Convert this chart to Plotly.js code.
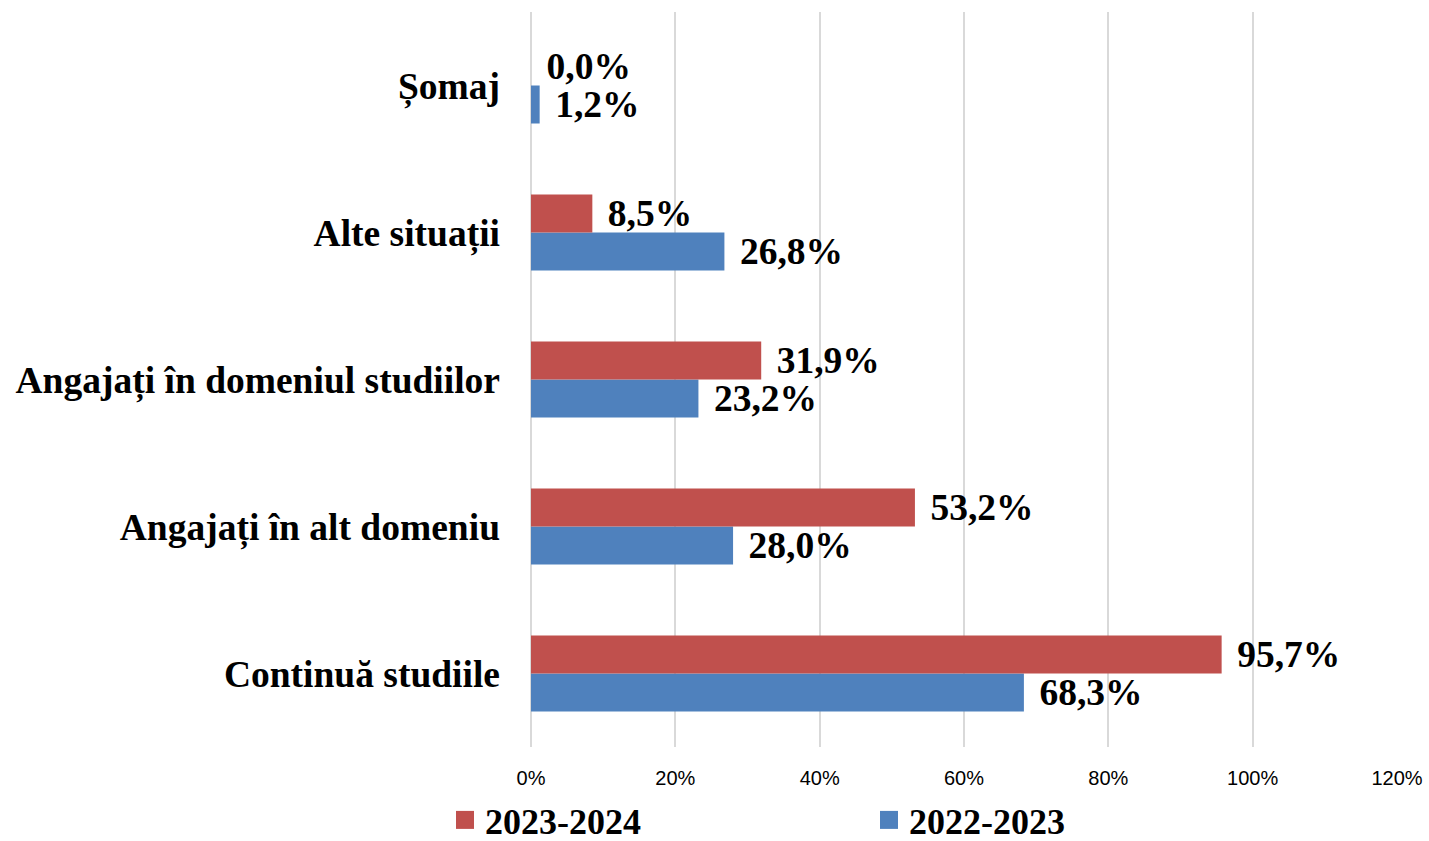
<!DOCTYPE html>
<html>
<head>
<meta charset="utf-8">
<script src="https://cdn.plot.ly/plotly-3.0.1.min.js"></script>
<style>html,body{margin:0;padding:0;background:#fff;}#chart{width:1429px;height:841px;}</style>
</head>
<body>
<div id="chart"></div>
<script>
const categories = ["Continuă studiile", "Angajați în alt domeniu", "Angajați în domeniul studiilor", "Alte situații", "Șomaj"];
const series2022 = [68.3, 28.0, 23.2, 26.8, 1.2];
const series2023 = [95.7, 53.2, 31.9, 8.5, 0.0];
const name2022 = "2022-2023";
const name2023 = "2023-2024";
const xTickVals = [0, 20, 40, 60, 80, 100, 120];
const xTickText = ["0%", "20%", "40%", "60%", "80%", "100%", "120%"];

const serif = "Liberation Serif, Times New Roman, serif";
const labelFont = {family: serif, size: 37.5, color: "#000", weight: "bold"};

const traces = [
  {
    type: "bar", orientation: "h", name: name2022,
    y: categories, x: series2022,
    marker: {color: "#4F81BD"},
    texttemplate: "\u00a0\u200a%{x:.1f}%", textposition: "outside",
    textfont: labelFont, constraintext: "none", cliponaxis: false,
    hoverinfo: "skip"
  },
  {
    type: "bar", orientation: "h", name: name2023,
    y: categories, x: series2023,
    marker: {color: "#C0504D"},
    texttemplate: "\u00a0\u200a%{x:.1f}%", textposition: "outside",
    textfont: labelFont, constraintext: "none", cliponaxis: false,
    hoverinfo: "skip"
  }
];

const layout = {
  width: 1429, height: 841,
  margin: {l: 531, r: 32, t: 12, b: 94},
  paper_bgcolor: "#fff", plot_bgcolor: "#fff",
  separators: ",.",
  barmode: "group", bargap: 0.483, bargroupgap: 0,
  showlegend: true,
  legend: {
    orientation: "h", traceorder: "reversed",
    xref: "container", yref: "container",
    x: 445 / 1429, xanchor: "left",
    y: 1 - 820 / 841, yanchor: "middle",
    entrywidth: 379, entrywidthmode: "pixels",
    font: {family: serif, size: 36, color: "#000", weight: "bold"}
  },
  xaxis: {
    range: [0, 120], tickvals: xTickVals, ticktext: xTickText,
    showgrid: true, gridcolor: "#d9d9d9", gridwidth: 2,
    zeroline: true, zerolinecolor: "#d9d9d9", zerolinewidth: 2,
    showline: false, ticks: "",
    tickfont: {family: "Liberation Sans, Arial, sans-serif", size: 20, color: "#000"},
    ticklabelstandoff: 17, fixedrange: true
  },
  yaxis: {
    type: "category", categoryorder: "array", categoryarray: categories,
    showgrid: false, zeroline: false, showline: false, ticks: "",
    tickfont: labelFont, ticklabelstandoff: 30, fixedrange: true
  }
};

const gd = document.getElementById("chart");
function enlargeLegendSymbols() {
  gd.querySelectorAll(".legendpoints path").forEach(p => p.setAttribute("d", "M9,9H-9V-9H9Z"));
}
Plotly.newPlot(gd, traces, layout, {displayModeBar: false, staticPlot: true}).then(enlargeLegendSymbols);
gd.on && gd.on("plotly_afterplot", enlargeLegendSymbols);
</script>
</body>
</html>
